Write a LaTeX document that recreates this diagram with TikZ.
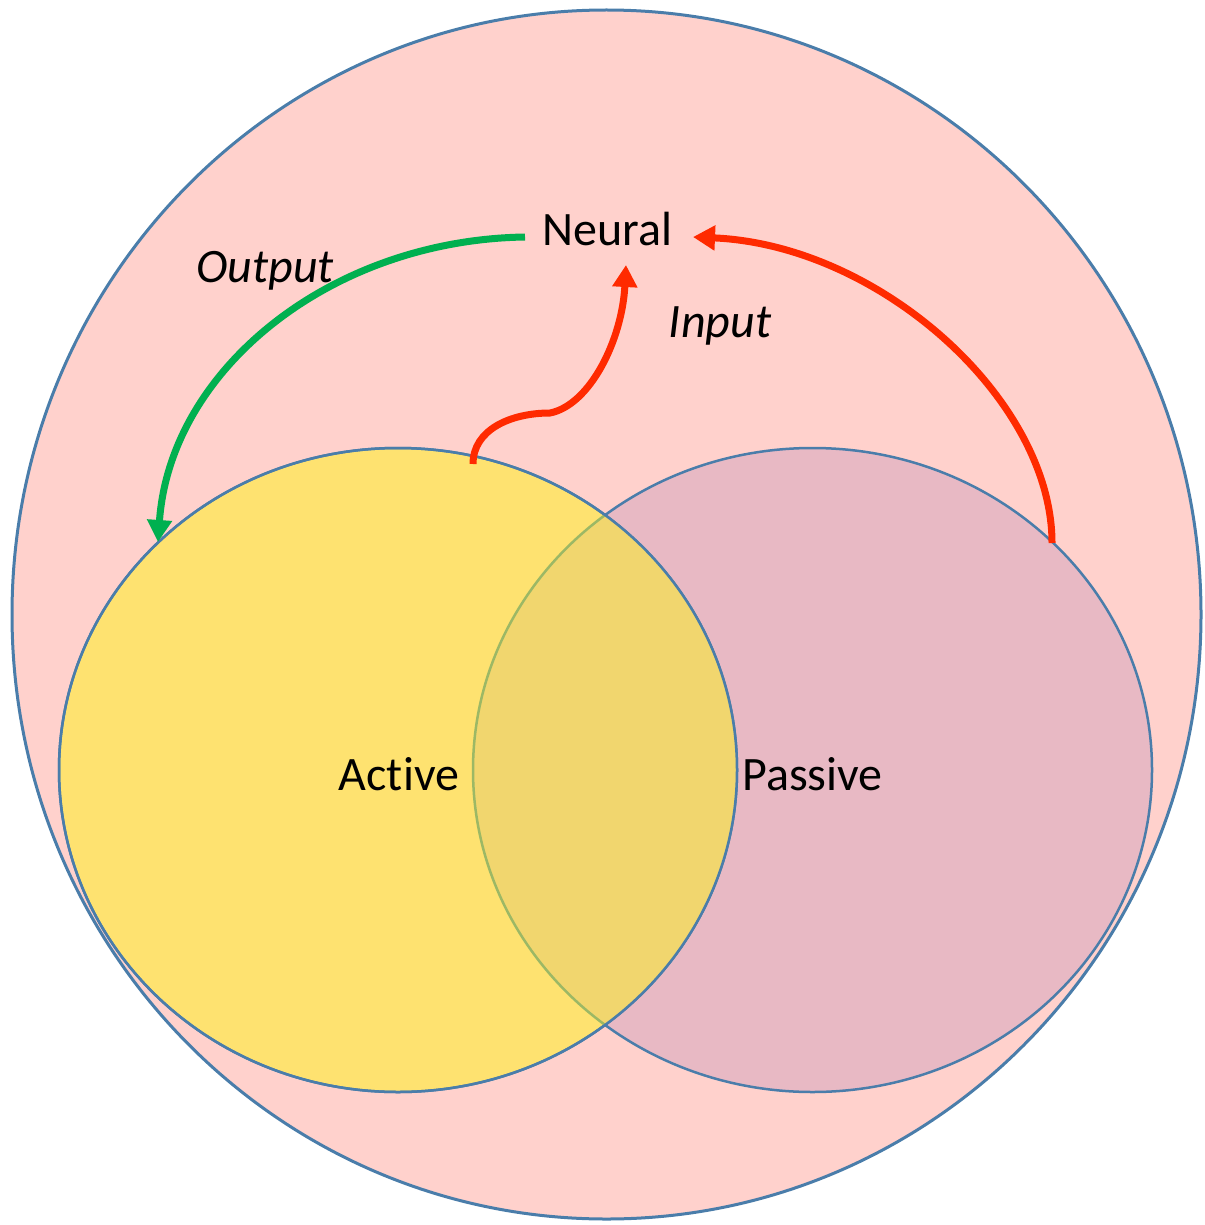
\documentclass[tikz,border=0pt]{standalone}
\usepackage{fontspec}
\setmainfont[Ligatures=NoCommon]{Carlito}
\usetikzlibrary{arrows.meta}

\definecolor{outerfill}{HTML}{FFD1CC}
\definecolor{rimblue}{HTML}{4A7DAA}
\definecolor{activefill}{HTML}{FEE270}
\definecolor{passivefill}{HTML}{E8B9C4}
\definecolor{bothfill}{HTML}{F1D66E}
\definecolor{rimgreen}{HTML}{9CB865}
\definecolor{outgreen}{HTML}{00B050}
\definecolor{inred}{HTML}{FF2A00}

\tikzset{
  rim/.style={draw=rimblue, line width=2.5pt},
  label/.style={inner sep=0pt, anchor=base, font=\fontsize{48}{57}\selectfont},
  flow/.style={line width=7pt, -{Triangle[length=22pt,width=24pt]}},
}

\begin{document}
\begin{tikzpicture}[x=1pt, y=-1pt]
  \useasboundingbox (0,0) rectangle (1204,1225);

  % outer region
  \fill[outerfill] (606.5,614.5) ellipse [x radius=594.5, y radius=604.5];
  \draw[rim, line width=3pt] (606.5,614.5) ellipse [x radius=594.5, y radius=604.5];

  % passive set
  \draw[rim, fill=passivefill] (812.5,770) ellipse [x radius=339.5, y radius=322];

  % active set
  \draw[rim, fill=activefill] (398,770) ellipse [x radius=339, y radius=322];

  % overlap of the two sets
  \begin{scope}
    \clip (398,770) ellipse [x radius=339, y radius=322];
    \fill[bothfill] (812.5,770) ellipse [x radius=339.5, y radius=322];
    \draw[draw=rimgreen, line width=2.5pt] (812.5,770) ellipse [x radius=339.5, y radius=322];
  \end{scope}
  \draw[rim] (398,770) ellipse [x radius=339, y radius=322];

  % labels
  \node[label] (neural)  at (607.5,245) {Neural};
  \node[label] (output)  at (265,282) {\itshape Output};
  \node[label] (input)   at (720,337) {\itshape Input};
  \node[label] (active)  at (399,790) {Active};
  \node[label] (passive) at (812.5,790) {Passive};

  % connector ends
  \coordinate (outstart) at (525,237);
  \coordinate (outend)   at (158,542);
  \coordinate (instart)  at (1052,543);
  \coordinate (inend)    at (693,237);
  \coordinate (actstart) at (473,464);
  \coordinate (actmid)   at (550,413);
  \coordinate (actend)   at (626,265);

  % flows
  \draw[flow, outgreen] (outstart) .. controls (330,240) and (170,370) .. (outend);
  \draw[flow, inred] (instart) .. controls (1052,400) and (880,245) .. (inend);
  \draw[flow, inred] (actstart) .. controls (473,430) and (510,413) .. (actmid)
                     .. controls (590,405) and (622,340) .. (actend);
\end{tikzpicture}
\end{document}
